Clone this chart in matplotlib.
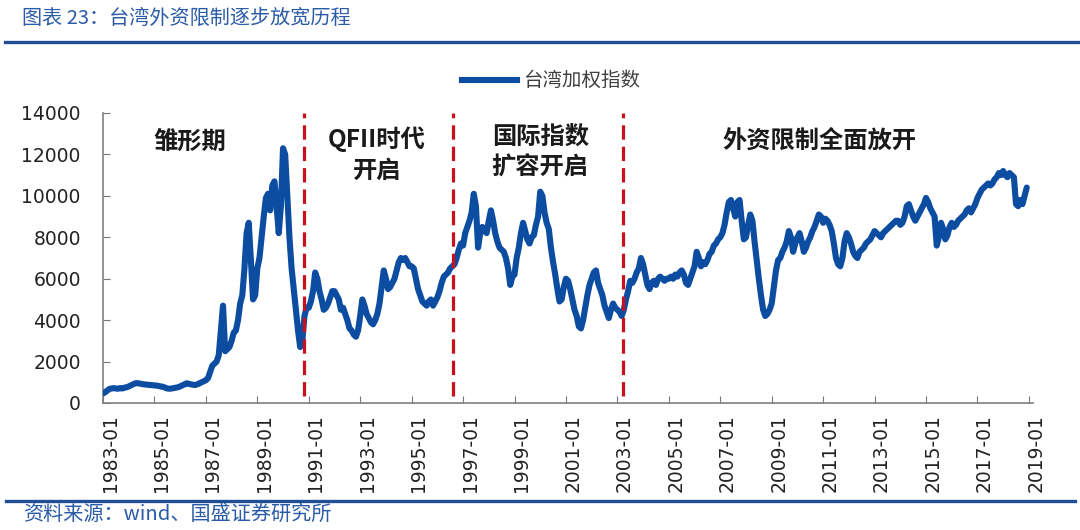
import numpy as np
import matplotlib
matplotlib.use("Agg")
import matplotlib.pyplot as plt
import matplotlib.transforms as mtransforms
from matplotlib.lines import Line2D

plt.rcParams['font.family'] = ['Noto Sans CJK SC', 'DejaVu Sans']

# ---------------- data ----------------
start_year = 1983
taiex = [
    460, 520, 600, 680, 700, 720, 700, 690, 720, 700, 740, 760,            # 1983
    800, 850, 900, 950, 960, 940, 920, 900, 890, 880, 870, 860,            # 1984
    850, 840, 820, 800, 780, 740, 700, 690, 700, 720, 740, 760,            # 1985
    800, 850, 900, 950, 930, 900, 880, 870, 900, 950, 1000, 1050,          # 1986
    1100, 1200, 1500, 1800, 1900, 2000, 2300, 3500, 4700, 2500, 2600, 2700,  # 1987
    3000, 3400, 3500, 4000, 4800, 5200, 6500, 8200, 8700, 6900, 5000, 5200,  # 1988
    6500, 7000, 8000, 9000, 9900, 10100, 9300, 10500, 10700, 9500, 8200, 9500,  # 1989
    12300, 12000, 10000, 8000, 6500, 5500, 4500, 3500, 2700, 3000, 4200, 4600,  # 1990
    4600, 4900, 5400, 6300, 6000, 5400, 5000, 4500, 4600, 4800, 5100, 5400,  # 1991
    5400, 5200, 5000, 4500, 4600, 4300, 4000, 3600, 3500, 3300, 3200, 3500,  # 1992
    4200, 5000, 4700, 4300, 4100, 3900, 3800, 4000, 4300, 4800, 5600, 6400,  # 1993
    6000, 5500, 5600, 5800, 6000, 6400, 6800, 7000, 6900, 7000, 6800, 6600,  # 1994
    6600, 6500, 6000, 5500, 5200, 4900, 4800, 4700, 4900, 5000, 4700, 4900,  # 1995
    5100, 5400, 5800, 6100, 6200, 6300, 6500, 6600, 6700, 7000, 7400, 7700,  # 1996
    7600, 8200, 8500, 8800, 9200, 10100, 9500, 7500, 8200, 8500, 8300, 8200,  # 1997
    8800, 9300, 8800, 8200, 7800, 7500, 7400, 7300, 7000, 6500, 5700, 6100,  # 1998
    6200, 7000, 7500, 8200, 8700, 8300, 7900, 7700, 8000, 8100, 8600, 9000,  # 1999
    10200, 10000, 9200, 8700, 8400, 7500, 6800, 6200, 5500, 4900, 5000, 5600,  # 2000
    6000, 5900, 5500, 5000, 4500, 4200, 3700, 3600, 4000, 4600, 5200, 5700,  # 2001
    6000, 6300, 6400, 5800, 5500, 5200, 4700, 4400, 4100, 4500, 4800, 4600,  # 2002
    4500, 4400, 4200, 4500, 5000, 5400, 5900, 5800, 6000, 6300, 6500, 7000,  # 2003
    6700, 6200, 5700, 5500, 5800, 5900, 5700, 6000, 6100, 6000, 5900, 6000,  # 2004
    6000, 6100, 6000, 6200, 6100, 6300, 6400, 6200, 5800, 5700, 6000, 6300,  # 2005
    6600, 7300, 7000, 6600, 6800, 6700, 6900, 7200, 7300, 7600, 7700, 7900,  # 2006
    8000, 8200, 8600, 9200, 9700, 9800, 9400, 9000, 9700, 9800, 8800, 7900,  # 2007
    8000, 8600, 9100, 8800, 7800, 6900, 6000, 5200, 4500, 4200, 4300, 4500,  # 2008
    4800, 5600, 6400, 6900, 7000, 7300, 7500, 7800, 8300, 8000, 7300, 7700,  # 2009
    8000, 8200, 7800, 7300, 7500, 7800, 8000, 8300, 8500, 8800, 9100, 9000,  # 2010
    8700, 8900, 8800, 8600, 8300, 7700, 7000, 6700, 6600, 7000, 7800, 8200,  # 2011
    8000, 7700, 7300, 7100, 7000, 7300, 7400, 7500, 7700, 7800, 7900, 8100,  # 2012
    8300, 8200, 8100, 8000, 8200, 8300, 8400, 8500, 8600, 8700, 8800, 8800,  # 2013
    8600, 8700, 9000, 9500, 9600, 9300, 9000, 8800, 9000, 9200, 9400, 9600,  # 2014
    9900, 9700, 9400, 9200, 9000, 7600, 8000, 8700, 8400, 7900, 8100, 8500,  # 2015
    8700, 8500, 8600, 8800, 8900, 9000, 9100, 9300, 9400, 9200, 9400, 9600,  # 2016
    9900, 10100, 10300, 10400, 10500, 10600, 10500, 10600, 10800, 10900, 11100, 11000,  # 2017
    11200, 11000, 10900, 11100, 11000, 10900, 9600, 9500, 9800, 9600, 10000, 10400,  # 2018
]
tick_years = list(range(1983, 2020, 2))
tick_labels = [f"{y}-01" for y in tick_years]
policy_breaks = [1990.8, 1996.6, 2003.2]
period_labels = ["雏形期", "QFII时代\n开启", "国际指数\n扩容开启", "外资限制全面放开"]
period_label_x = [1986.38, 1993.65, 2000.0, 2010.85]
period_label_y = [12550, 12000, 12080, 12650]
series_name = "台湾加权指数"

x = start_year + np.arange(len(taiex)) / 12.0

# ---------------- figure ----------------
fig = plt.figure(figsize=(10.8, 5.3), dpi=100)
ax = fig.add_axes([103/1080, 1-403/530, 930/1080, 290/530])

line_color = '#0C4DA2'
ax.plot(x, taiex, color=line_color, lw=4.4, solid_joinstyle='round',
        solid_capstyle='round', zorder=3)

for b in policy_breaks:
    ax.plot([b, b], [350, 14000], color='#C8101E', lw=2.3, dashes=(4.5, 2.2), zorder=4)

ax.set_xlim(1983.0, 2019.16)
ax.set_ylim(0, 14000)
ax.set_yticks(np.arange(0, 14001, 2000))
ax.set_xticks(tick_years)
ax.set_xticklabels(tick_labels, rotation=90, fontsize=13.5, color='#222222',
                   family='DejaVu Sans')
for lab in ax.get_yticklabels():
    lab.set_family('DejaVu Sans')
ax.tick_params(axis='y', direction='in', length=5, labelsize=13.5, pad=16,
               colors='#777777', labelcolor='#222222')
ax.tick_params(axis='x', direction='in', length=5, pad=8, colors='#777777',
               labelcolor='#222222')
offset = mtransforms.ScaledTranslation(7/100, 0, fig.dpi_scale_trans)
for lab in ax.get_xticklabels():
    lab.set_transform(lab.get_transform() + offset)

for s in ['top', 'right']:
    ax.spines[s].set_visible(False)
for s in ['left', 'bottom']:
    ax.spines[s].set_color('#808080')
    ax.spines[s].set_linewidth(1.2)

for txt, tx, ty in zip(period_labels, period_label_x, period_label_y):
    ax.text(tx, ty, txt, ha='center', va='center', fontsize=17.5, fontweight='bold',
            color='#1a1a1a', linespacing=1.35, zorder=5)

# legend
fig.add_artist(Line2D([462/1080, 517/1080], [1-80/530, 1-80/530], color=line_color, lw=4.4,
                      transform=fig.transFigure))
fig.text(523/1080, 1-80/530, series_name, ha='left', va='center', fontsize=14,
         color='#404040')

# header / footer
fig.text(22/1080, 1-18/530, "图表 23：台湾外资限制逐步放宽历程", ha='left', va='center',
         fontsize=14.5, color='#2A5CA8', style='italic')
fig.add_artist(Line2D([5/1080, 1.0], [1-42/530, 1-42/530], color='#1F4E96', lw=2.4,
                      transform=fig.transFigure))
fig.add_artist(Line2D([6/1080, 1075/1080], [1-501/530, 1-501/530], color='#1F4E96', lw=2.4,
                      transform=fig.transFigure))
fig.text(23/1080, 1-514/530, "资料来源：wind、国盛证券研究所", ha='left', va='center',
         fontsize=14.5, color='#2A5CA8', style='italic')

fig.savefig('out.png', dpi=100)
